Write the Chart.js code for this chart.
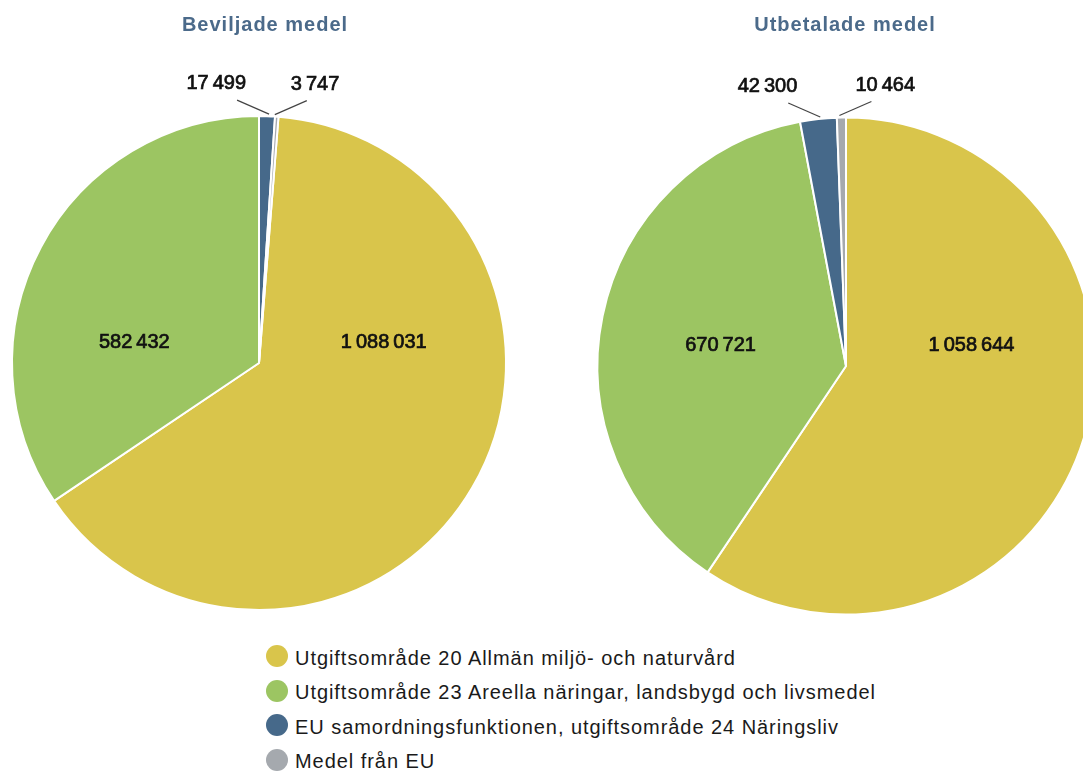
<!DOCTYPE html>
<html>
<head>
<meta charset="utf-8">
<script src="https://cdn.jsdelivr.net/npm/chart.js@4.4.1/dist/chart.umd.min.js"></script>
<style>
  html, body { margin: 0; padding: 0; background: #fff; width: 1083px; height: 774px; overflow: hidden; position: relative; }
  canvas { position: absolute; }
  #legend { position: absolute; left: 266px; top: 641px; margin: 0; padding: 0; list-style: none;
    font-family: "Liberation Sans", Arial, sans-serif; font-size: 20px; letter-spacing: 0.95px; color: #1a1a1a; }
  #legend li { height: 34.5px; display: flex; align-items: center; white-space: nowrap; }
  #legend span.dot { display: inline-block; width: 22px; height: 22px; border-radius: 50%; margin-right: 7px; position: relative; top: -2px; }
</style>
</head>
<body>
<canvas id="c1" width="540" height="640" style="left:0;top:0"></canvas>
<canvas id="c2" width="560" height="640" style="left:560px;top:0"></canvas>
<ul id="legend"></ul>
<script>
const categories = [
  'Utgiftsområde 20 Allmän miljö- och naturvård',
  'Utgiftsområde 23 Areella näringar, landsbygd och livsmedel',
  'EU samordningsfunktionen, utgiftsområde 24 Näringsliv',
  'Medel från EU'
];
const beviljade = [1088031, 582432, 17499, 3747];
const utbetalade = [1058644, 670721, 42300, 10464];
const titles = ['Beviljade medel', 'Utbetalade medel'];
const colors = ['#d9c54b', '#9cc562', '#46698a', '#a5a9ae'];

const fmt = n => String(n).replace(/\B(?=(\d{3})+(?!\d))/g, '\u2009');
const numFont = '20px "Liberation Sans", Arial, sans-serif';

function numText(ctx, s, x, y) {
  ctx.fillText(s, x, y);
  ctx.strokeText(s, x, y);
}

const labelPlugin = {
  id: 'pieLabels',
  afterDatasetsDraw(chart, args, opts) {
    const ctx = chart.ctx;
    const meta = chart.getDatasetMeta(0);
    const data = chart.data.datasets[0].data;
    const total = data.reduce((a, b) => a + b, 0);
    let smallCount = 0;
    ctx.save();
    ctx.font = numFont;
    meta.data.forEach((arc, i) => {
      const p = arc.getProps(['x', 'y', 'startAngle', 'endAngle', 'outerRadius'], true);
      const mid = (p.startAngle + p.endAngle) / 2;
      const r = p.outerRadius;
      ctx.fillStyle = '#111';
      ctx.strokeStyle = '#111';
      ctx.lineWidth = 0.7;
      ctx.textBaseline = 'alphabetic';
      if (data[i] / total > 0.1) {
        const dir = Math.cos(mid) >= 0 ? 1 : -1;
        ctx.textAlign = 'center';
        numText(ctx, fmt(data[i]), p.x + dir * (0.505 * r), p.y - 15);
      } else {
        const dir = smallCount === 0 ? -1 : 1;
        smallCount++;
        const ex = p.x + (r + 1) * Math.cos(mid);
        const ey = p.y + (r + 1) * Math.sin(mid);
        const sx = ex + dir * 30, sy = ey - 15;
        ctx.strokeStyle = '#444';
        ctx.lineWidth = 1.2;
        ctx.beginPath();
        ctx.moveTo(ex - dir * 2, ey - 1);
        ctx.lineTo(sx, sy);
        ctx.stroke();
        ctx.strokeStyle = '#111';
        ctx.lineWidth = 0.7;
        if (dir < 0) { ctx.textAlign = 'right'; numText(ctx, fmt(data[i]), sx + 9, sy - 11); }
        else { ctx.textAlign = 'left'; numText(ctx, fmt(data[i]), sx - 16, sy - 11); }
      }
    });
    // title
    const a0 = meta.data[0];
    ctx.fillStyle = '#4b6a8a';
    ctx.font = 'bold 20px "Liberation Sans", Arial, sans-serif';
    ctx.letterSpacing = '1px';
    ctx.textAlign = 'center';
    ctx.textBaseline = 'alphabetic';
    ctx.fillText(opts.title, a0.x + opts.dx, 31);
    ctx.restore();
  }
};

function makePie(id, values, title, dx, rotation, radius, padding) {
  return new Chart(document.getElementById(id), {
    type: 'pie',
    data: {
      labels: categories,
      datasets: [{ data: values, backgroundColor: colors, borderColor: '#fff', borderWidth: 2 }]
    },
    options: {
      responsive: false,
      animation: false,
      rotation: rotation,
      radius: radius,
      layout: { padding: padding },
      plugins: { legend: { display: false }, tooltip: { enabled: false }, pieLabels: { title: title, dx: dx } }
    },
    plugins: [labelPlugin]
  });
}

const sum = a => a.reduce((x, y) => x + y, 0);
const rotLeft = 360 * (beviljade[2] + beviljade[3]) / sum(beviljade);

makePie('c1', beviljade, titles[0], 6, rotLeft, 247, { left: 9, top: 113, right: 31, bottom: 27 });
makePie('c2', utbetalade, titles[1], -1, 0, 248.5, { left: 36, top: 116, right: 24, bottom: 24 });

const legend = document.getElementById('legend');
categories.forEach((c, i) => {
  const li = document.createElement('li');
  const dot = document.createElement('span');
  dot.className = 'dot';
  dot.style.background = colors[i];
  li.appendChild(dot);
  li.appendChild(document.createTextNode(c));
  legend.appendChild(li);
});
</script>
</body>
</html>
